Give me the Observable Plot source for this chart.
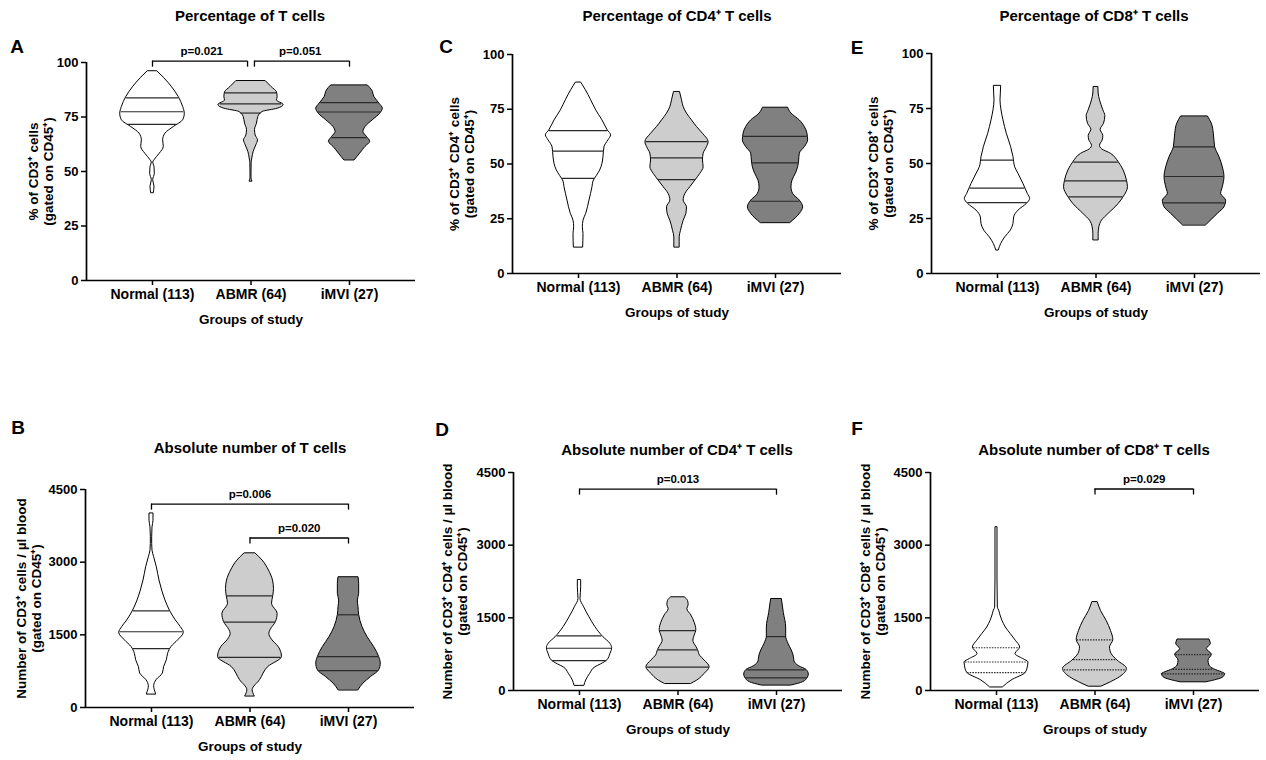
<!DOCTYPE html>
<html><head><meta charset="utf-8">
<script src="https://cdn.jsdelivr.net/npm/d3@7"></script>
<script src="https://cdn.jsdelivr.net/npm/@observablehq/plot@0.6"></script>
<style>
body{margin:0;background:#fff;}
#root{position:relative;width:1266px;height:760px;overflow:hidden;font-family:"Liberation Sans",Arial,sans-serif;font-weight:bold;color:#000;background:#fff;}
.t{position:absolute;transform:translate(-50%,-50%);white-space:nowrap;line-height:1;font-size:15px;}
.l{position:absolute;transform:translate(-50%,-50%);line-height:1;font-size:19px;}
.p{position:absolute;}
</style></head><body><div id="root"></div>
<script>
// ---------------- DATA ----------------
const groups = ["Normal (113)", "ABMR (64)", "iMVI (27)"];
const pctTicks = [0, 25, 50, 75, 100];
const absTicks = [0, 1500, 3000, 4500];

// violin profiles: [value, relative density (peak = 1)]
const A_normal = [[96,0.14],[93,0.34],[88.6,0.59],[84.1,0.79],[79.6,0.92],[76.5,0.97],[73.5,0.92],[70.4,0.64],[67.4,0.39],[64.3,0.32],[61.3,0.34],[58.2,0.22],[55.2,0.06],[54.1,0.02],[52.1,0.06],[49,0.07],[46,0.02],[43,0.06],[40.2,0.04]];
const A_abmr = [[91.5,0.44],[88.7,0.62],[86.3,0.78],[84.1,0.80],[82.6,0.78],[80.5,0.98],[78.8,0.80],[77.3,0.35],[75,0.22],[72,0.18],[69,0.12],[66.5,0.14],[64.3,0.21],[62,0.16],[59,0.08],[56,0.04],[54,0.02],[50,0.015],[47,0.015],[45.5,0.04]];
const A_imvi = [[89.5,0.55],[87.2,0.68],[84.1,0.75],[81.1,0.90],[78.8,1.0],[76.5,0.92],[73.5,0.70],[70.4,0.48],[68.1,0.42],[65.9,0.52],[63.6,0.62],[61.3,0.48],[58.2,0.32],[55.2,0.16]];
const A_quart = [[71.6,77.4,83.8],[76.8,81.0,86.1],[65.5,77.3,81.6]];

const C_normal = [[87.2,0.08],[83.7,0.22],[79.1,0.38],[74.5,0.53],[69.9,0.72],[65.3,0.88],[63.1,0.98],[60.8,0.90],[57.7,0.78],[53.1,0.75],[50.1,0.72],[47,0.65],[44.5,0.55],[42,0.45],[39.4,0.42],[33.3,0.33],[27.2,0.23],[24.1,0.15],[21.1,0.13],[18,0.15],[12,0.14]];
const C_abmr = [[82.9,0.09],[79.1,0.15],[76,0.20],[73,0.30],[69.9,0.45],[66.9,0.60],[63.8,0.78],[60,0.95],[57.7,0.90],[54.7,0.80],[51.6,0.78],[48.5,0.80],[45.5,0.70],[42.4,0.55],[39.4,0.40],[36.3,0.25],[33.3,0.20],[30.2,0.30],[27.2,0.28],[24.1,0.20],[19.5,0.12],[16.5,0.08],[12,0.08]];
const C_imvi = [[75.7,0.38],[73,0.48],[69.9,0.73],[66.9,0.88],[63.8,0.96],[60.8,0.98],[57.7,0.88],[54.7,0.73],[51.6,0.71],[48.5,0.68],[45.5,0.61],[42.4,0.51],[39.4,0.48],[36.3,0.53],[33.3,0.73],[30.2,0.83],[27.2,0.73],[23.1,0.45]];
const C_quart = [[43.4,55.9,65.2],[42.9,52.8,60.2],[33.0,50.5,62.6]];

const E_normal = [[85.3,0.11],[81.8,0.10],[78.7,0.09],[74.2,0.12],[69.6,0.18],[63.5,0.28],[57.4,0.41],[52.9,0.48],[48.3,0.53],[45.3,0.63],[40.7,0.78],[36.2,0.91],[33.9,0.98],[31.6,0.88],[28.6,0.63],[25.5,0.50],[22.5,0.48],[19.5,0.40],[16.4,0.23],[13.4,0.11],[10.6,0.04]];
const E_abmr = [[84.8,0.07],[81.8,0.08],[78.7,0.12],[74.2,0.22],[71.5,0.28],[68.1,0.24],[65.3,0.14],[62.5,0.22],[60.5,0.20],[58,0.12],[56.5,0.18],[54.4,0.45],[50.6,0.68],[46.8,0.83],[42.2,0.93],[39.2,0.96],[34.7,0.83],[31.6,0.68],[27.1,0.38],[24,0.18],[21,0.10],[17.9,0.08],[15.2,0.08]];
const E_imvi = [[71.4,0.40],[68.1,0.52],[63.5,0.58],[57.4,0.62],[52.9,0.75],[48.3,0.85],[43.8,0.90],[39.2,0.85],[36.2,0.80],[33.1,0.95],[30.1,0.90],[27.1,0.70],[21.9,0.35]];
const E_quart = [[32.2,38.8,51.5],[34.8,42.1,50.6],[32.1,44.1,57.6]];

const B_normal = [[4006,0.06],[3855,0.06],[3718,0.03],[3512,0.02],[3375,0.02],[3238,0.03],[3101,0.08],[2895,0.16],[2621,0.24],[2415,0.32],[2209,0.42],[2003,0.55],[1797,0.73],[1660,0.88],[1543,0.97],[1386,0.80],[1249,0.60],[1111,0.50],[974,0.46],[837,0.38],[700,0.34],[563,0.15],[439,0.08],[274,0.14]];
const B_abmr = [[3183,0.16],[3032,0.38],[2826,0.57],[2621,0.69],[2449,0.72],[2305,0.70],[2141,0.66],[1934,0.83],[1764,0.78],[1600,0.62],[1523,0.58],[1400,0.66],[1249,0.86],[1043,0.96],[837,0.55],[563,0.30],[357,0.08],[233,0.14]];
const B_imvi = [[2689,0.30],[2552,0.32],[2346,0.32],[2209,0.28],[2072,0.30],[1907,0.32],[1660,0.42],[1454,0.57],[1249,0.77],[1043,0.92],[906,0.97],[768,0.92],[631,0.68],[494,0.45],[357,0.30]];
const B_quart = [[1214,1564,1996],[1036,1763,2305],[762,1050,1914]];

const D_normal = [[2281,0.05],[2130,0.05],[1889,0.03],[1718,0.14],[1511,0.30],[1305,0.48],[1099,0.72],[962,0.93],[872,0.98],[756,0.93],[618,0.83],[540,0.65],[481,0.48],[344,0.32],[206,0.20],[103,0.15]];
const D_abmr = [[1924,0.20],[1850,0.30],[1760,0.32],[1680,0.28],[1550,0.40],[1400,0.50],[1250,0.55],[1130,0.50],[1030,0.46],[900,0.55],[838,0.60],[720,0.66],[620,0.80],[481,0.95],[344,0.80],[206,0.58],[137,0.40]];
const D_imvi = [[1889,0.16],[1600,0.22],[1300,0.29],[1113,0.29],[962,0.36],[824,0.46],[700,0.52],[600,0.54],[500,0.68],[426,0.90],[330,0.97],[261,0.94],[172,0.80],[103,0.45]];
const D_quart = [[618,872,1127],[481,838,1237],[261,426,1113]];

const F_normal = [[3372,0.03],[2291,0.03],[1710,0.04],[1650,0.08],[1573,0.11],[1436,0.18],[1300,0.28],[1163,0.43],[1026,0.58],[889,0.71],[752,0.57],[650,0.80],[581,0.96],[513,0.95],[366,0.88],[205,0.45],[68,0.20]];
const F_abmr = [[1826,0.08],[1642,0.18],[1436,0.35],[1231,0.48],[1040,0.55],[889,0.45],[752,0.50],[616,0.68],[445,0.96],[274,0.75],[171,0.48],[82,0.20]];
const F_imvi = [[1053,0.48],[958,0.52],[855,0.40],[739,0.55],[616,0.45],[513,0.48],[438,0.62],[376,0.85],[342,0.95],[274,0.90],[171,0.40]];
const F_quart = [[369,588,882],[424,636,1047],[342,438,739]];

// significance brackets: from group, to group, height, label
const A_brackets = [{from:1,to:2,y:100.6,label:"p=0.021"},{from:2,to:3,y:100.6,label:"p=0.051"}];
const B_brackets = [{from:1,to:3,y:4198,label:"p=0.006"},{from:2,to:3,y:3499,label:"p=0.020"}];
const D_brackets = [{from:1,to:3,y:4156,label:"p=0.013"}];
const F_brackets = [{from:2,to:3,y:4159,label:"p=0.029"}];

const titles = {
  A:"Percentage of T cells", C:"Percentage of CD4⁺ T cells", E:"Percentage of CD8⁺ T cells",
  B:"Absolute number of T cells", D:"Absolute number of CD4⁺ T cells", F:"Absolute number of CD8⁺ T cells"
};
const yLabels = {
  A:"% of CD3⁺ cells\n(gated on CD45⁺)",
  C:"% of CD3⁺ CD4⁺ cells\n(gated on CD45⁺)",
  E:"% of CD3⁺ CD8⁺ cells\n(gated on CD45⁺)",
  B:"Number of CD3⁺ cells / µl blood\n(gated on CD45⁺)",
  D:"Number of CD3⁺ CD4⁺ cells / µl blood\n(gated on CD45⁺)",
  F:"Number of CD3⁺ CD8⁺ cells / µl blood\n(gated on CD45⁺)"
};
const xLabel = "Groups of study";

// ---------------- STYLE / LAYOUT ----------------
const fills = ["#ffffff", "#cdcdcd", "#808080"];
const W = 0.338;            // half-width at peak density (category units)
const xDom = [0.33, 3.67];

const panels = [
  {id:"A", prof:[A_normal,A_abmr,A_imvi], q:A_quart, br:A_brackets, ticks:pctTicks, left:0, top:0, w:420, h:340, mL:86, mR:5, mT:62, mB:60, tx:250, ty:15, lx:17, ly:46, ldx:-46},
  {id:"C", prof:[C_normal,C_abmr,C_imvi], q:C_quart, br:[], ticks:pctTicks, left:420, top:0, w:426, h:340, mL:92, mR:5, mT:54, mB:67, tx:677, ty:15, lx:446, ly:46, ldx:-51},
  {id:"E", prof:[E_normal,E_abmr,E_imvi], q:E_quart, br:[], ticks:pctTicks, left:840, top:0, w:426, h:340, mL:91, mR:6, mT:53, mB:67, tx:1094, ty:15, lx:857, ly:47, ldx:-51},
  {id:"B", prof:[B_normal,B_abmr,B_imvi], q:B_quart, br:B_brackets, ticks:absTicks, left:0, top:380, w:420, h:380, mL:85, mR:6, mT:109, mB:53, tx:250, ty:447, lx:18, ly:427, ldx:-57},
  {id:"D", prof:[D_normal,D_abmr,D_imvi], q:D_quart, br:D_brackets, ticks:absTicks, left:420, top:380, w:426, h:380, mL:93, mR:4, mT:92, mB:70, tx:677, ty:449, lx:442, ly:429, ldx:-59},
  {id:"F", prof:[F_normal,F_abmr,F_imvi], q:F_quart, br:F_brackets, ticks:absTicks, left:840, top:380, w:426, h:380, mL:90, mR:7, mT:92, mB:70, tx:1094, ty:449, lx:857, ly:428, ldx:-58, dashed:true}
];

function dens(profile, v) {
  const p = [...profile].sort((a, b) => a[0] - b[0]);
  if (v <= p[0][0]) return p[0][1];
  for (let i = 1; i < p.length; i++) {
    if (v <= p[i][0]) {
      const [v0, d0] = p[i - 1], [v1, d1] = p[i];
      return d0 + (d1 - d0) * (v - v0) / (v1 - v0);
    }
  }
  return p[p.length - 1][1];
}

const root = document.getElementById("root");

for (const P of panels) {
  const ymax = P.ticks[P.ticks.length - 1];
  const plotH = P.h - P.mT - P.mB;
  const drop = 6 * ymax / plotH;
  const marks = [];
  P.prof.forEach((prof, i) => {
    const c = i + 1;
    const rows = [...prof].sort((a, b) => a[0] - b[0]).map(([v, d]) => ({v, lo: c - d * W, hi: c + d * W}));
    marks.push(Plot.areaX(rows, {y: "v", x1: "lo", x2: "hi", fill: fills[i], stroke: "#000", strokeWidth: 1, curve: "monotone-y"}));
  });
  const qrows = [];
  P.q.forEach((qs, i) => qs.forEach(v => {
    const d = dens(P.prof[i], v);
    qrows.push({v, lo: i + 1 - d * W + 0.004, hi: i + 1 + d * W - 0.004});
  }));
  const qopts = {y: "v", x1: "lo", x2: "hi", stroke: "#2a2a2a", strokeWidth: 1.2};
  if (P.dashed) qopts.strokeDasharray = "1.5,1.2";
  marks.push(Plot.ruleY(qrows, qopts));

  // brackets
  const brs = P.br.map(b => {
    let x1 = b.from, x2 = b.to;
    for (const o of P.br) {
      if (o === b || o.y !== b.y) continue;
      if (o.from === b.to) x2 -= 0.035;
      if (o.to === b.from) x1 += 0.035;
    }
    return {...b, x1, x2, mid: (b.from + b.to) / 2};
  });
  const drops = brs.flatMap(b => [{x: b.x1, y1: b.y, y2: b.y - drop}, {x: b.x2, y1: b.y, y2: b.y - drop}]);
  marks.push(Plot.ruleY(brs, {y: "y", x1: "x1", x2: "x2", strokeWidth: 1.3}));
  marks.push(Plot.ruleX(drops, {x: "x", y1: "y1", y2: "y2", strokeWidth: 1.3}));
  marks.push(Plot.text(brs, {x: "mid", y: "y", text: "label", dy: -10, fontSize: 11.5, lineAnchor: "middle"}));

  // axes
  marks.push(Plot.ruleX([xDom[0]], {strokeWidth: 1.7}));
  marks.push(Plot.ruleY([0], {strokeWidth: 1.7}));
  marks.push(Plot.axisY({ticks: P.ticks, tickFormat: "d", tickSize: 5, tickPadding: 3, strokeWidth: 1.5, label: null, fontSize: 13}));
  marks.push(Plot.axisX({ticks: [1, 2, 3], tickFormat: d => groups[d - 1], tickSize: 5, tickPadding: 4, strokeWidth: 1.5, label: null, fontSize: 14}));
  marks.push(Plot.text([yLabels[P.id]], {frameAnchor: "left", dx: P.ldx, rotate: -90, text: d => d, lineHeight: 1.15, fontSize: 13.5, textAnchor: "middle", lineAnchor: "middle"}));
  marks.push(Plot.text([xLabel], {frameAnchor: "bottom", dy: 39, text: d => d, fontSize: 13.5, lineAnchor: "middle"}));

  const svg = Plot.plot({
    width: P.w, height: P.h,
    marginLeft: P.mL, marginRight: P.mR, marginTop: P.mT, marginBottom: P.mB,
    x: {domain: xDom},
    y: {domain: [0, ymax]},
    style: {fontFamily: "'Liberation Sans', Arial, sans-serif", fontWeight: "bold", fontSize: "13px", color: "#000", background: "transparent", overflow: "visible"},
    marks
  });
  const wrap = document.createElement("div");
  wrap.className = "p";
  wrap.style.left = P.left + "px";
  wrap.style.top = P.top + "px";
  wrap.appendChild(svg);
  root.appendChild(wrap);

  const t = document.createElement("div");
  t.className = "t";
  t.style.left = P.tx + "px"; t.style.top = P.ty + "px";
  t.textContent = titles[P.id];
  root.appendChild(t);
  const l = document.createElement("div");
  l.className = "l";
  l.style.left = P.lx + "px"; l.style.top = P.ly + "px";
  l.textContent = P.id;
  root.appendChild(l);
}
</script></body></html>
